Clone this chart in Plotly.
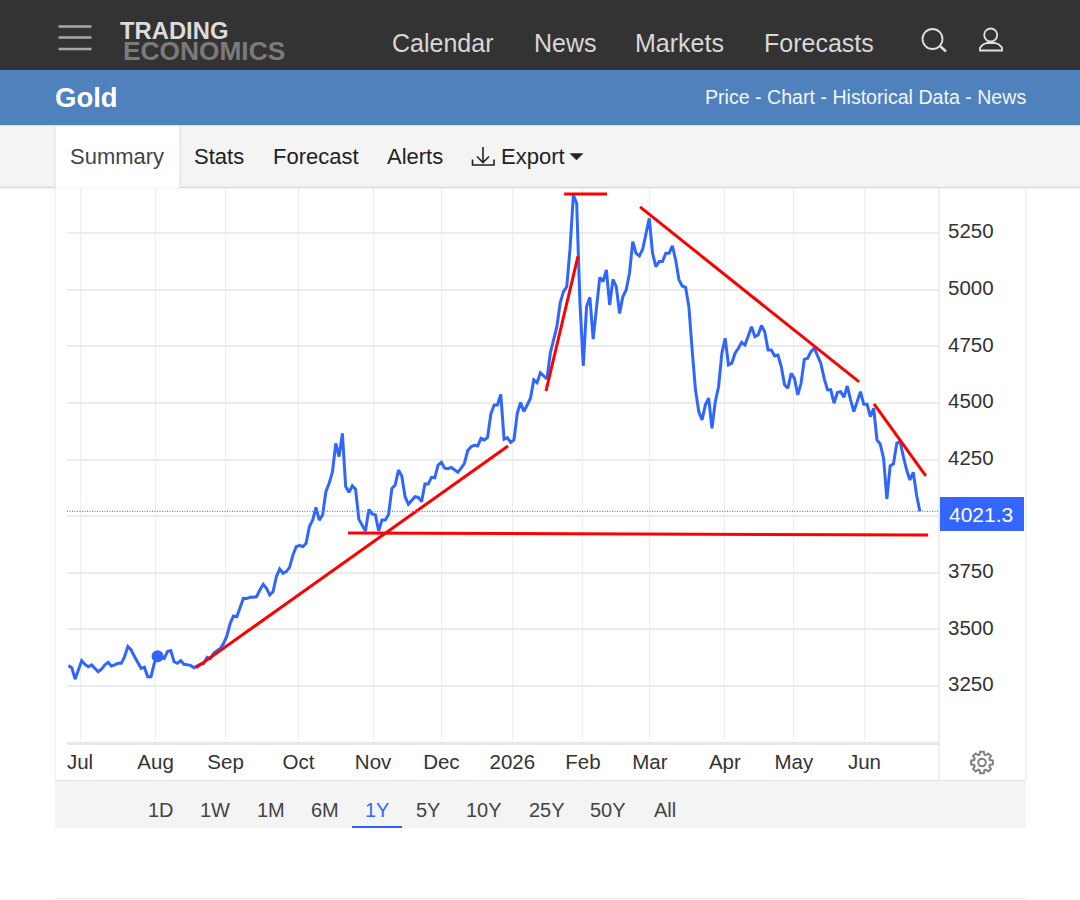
import math
import plotly.graph_objects as go

# ---------- data ----------
price = [3340,3331,3280,3324,3362,3345,3335,3343,3328,3313,3324,3343,3355,3338,3343,3350,3350,3380,3424,3409,
3380,3357,3328,3333,3291,3291,3350,3381,3380,3372,3402,3406,3357,3350,3362,3346,3343,3341,3331,3340,3346,
3350,3377,3372,3394,3406,3416,3438,3471,3527,3559,3556,3593,3637,3636,3642,3642,3645,3674,3699,3681,
3652,3667,3733,3767,3748,3755,3774,3828,3865,3871,3865,3880,3954,3983,4039,3983,4005,4108,4145,4197,
4322,4263,4366,4131,4106,4134,4119,3986,3961,3935,4030,4010,4006,3935,3983,3983,4008,4123,4138,4204,
4178,4086,4053,4072,4086,4083,4064,4142,4142,4172,4170,4226,4238,4212,4210,4215,4204,4194,4212,4234,
4290,4307,4313,4310,4344,4337,4348,4452,4491,4491,4538,4340,4347,4326,4337,4454,4502,4462,4491,4521,
4602,4590,4634,4621,4606,4720,4779,4837,4941,4992,5014,5183,5419,5382,4940,4664,4926,4967,4782,
4911,5055,5036,5088,4933,5046,5014,4896,4970,4999,5073,5213,5161,5150,5179,5250,5316,5161,5102,5125,
5125,5161,5161,5194,5132,5044,5017,5011,4926,4734,4558,4462,4425,4492,4521,4388,4506,4572,4720,4786,
4668,4676,4720,4742,4768,4756,4793,4837,4793,4801,4842,4815,4734,4734,4708,4712,4661,4580,4565,4631,
4609,4536,4587,4693,4698,4727,4742,4712,4675,4609,4558,4558,4499,4546,4550,4525,4575,4514,4462,4506,
4550,4494,4494,4440,4477,4337,4318,4256,4076,4222,4231,4322,4330,4263,4204,4160,4194,4094,4021.3]
sessions = list(range(len(price)))

last_price = 4021.3
marker_session = [27]
marker_price = [3381]

month_labels = ["Jul","Aug","Sep","Oct","Nov","Dec","2026","Feb","Mar","Apr","May","Jun"]
month_sessions = [3.5,26.4,47.6,69.7,92.3,113,134.5,155.9,176.2,198.9,219.8,241.2]
price_ticks = [3250,3500,3750,4000,4250,4500,4750,5000,5250]
price_labels = ["3250","3500","3750","","4250","4500","4750","5000","5250"]

trend_a = ([38.6,133.2],[3330,4310])
trend_b = ([84.7,260.5],[3926,3917])
trend_c = ([144.7,154.4],[4553,5149])
trend_d = ([150.2,163.2],[5423,5423])
trend_e = ([173.2,239.6],[5366,4593])
trend_f = ([244.1,259.8],[4496,4178])

nav_items = [("Calendar",392),("News",534),("Markets",635),("Forecasts",764)]
tab_items = [("Summary",70,"#444444"),("Stats",194,"#222222"),("Forecast",273,"#222222"),("Alerts",387,"#222222"),("Export",501,"#222222")]
range_items = [("1D",161),("1W",215),("1M",271),("6M",325),("1Y",377),("5Y",428),("10Y",484),("25Y",547),("50Y",608),("All",665)]

# ---------- page geometry ----------
W, H = 1080, 900
FONT = "Liberation Sans"
BLUE = "#2f66ff"
def X(p): return p / W
def Y(p): return 1 - p / H

shapes, annos = [], []
def rect(x0, y0, x1, y1, fill, line=None, lw=0, layer="below"):
    shapes.append(dict(type="rect", xref="paper", yref="paper", x0=X(x0), x1=X(x1), y0=Y(y0), y1=Y(y1),
                       fillcolor=fill, line=dict(color=line or fill, width=lw), layer=layer))
def seg(x0, y0, x1, y1, color, lw=1, layer="above", dash=None):
    shapes.append(dict(type="line", xref="paper", yref="paper", x0=X(x0), x1=X(x1), y0=Y(y0), y1=Y(y1),
                       line=dict(color=color, width=lw, dash=dash or "solid"), layer=layer))
def circ(cx, cy, r, color, lw=1.8):
    shapes.append(dict(type="circle", xref="paper", yref="paper", x0=X(cx-r), x1=X(cx+r), y0=Y(cy+r), y1=Y(cy-r),
                       line=dict(color=color, width=lw), layer="above"))
def path(points, color, lw=1.8, close=False, fill=None):
    d = "M" + " L".join(f"{X(a):.5f},{Y(b):.5f}" for a, b in points) + (" Z" if close else "")
    s = dict(type="path", xref="paper", yref="paper", path=d, line=dict(color=color, width=lw), layer="above")
    if fill: s["fillcolor"] = fill
    shapes.append(s)
def text(t, x, y, size, color, anchor="left", bold=False):
    annos.append(dict(text=f"<b>{t}</b>" if bold else t, xref="paper", yref="paper", x=X(x), y=Y(y), xanchor=anchor,
                      yanchor="middle", showarrow=False, borderpad=0, borderwidth=0,
                      font=dict(family=FONT, size=size, color=color)))

# header bands
rect(0, 0, W, 70, "#333333")
rect(0, 70, W, 125, "#4f81bd")
rect(0, 126, W, 187, "#f4f4f4")
seg(0, 125.5, W, 125.5, "#dddddd", 1, "below")
seg(0, 187.5, W, 187.5, "#d8d8d8", 1.5, "below")
rect(55, 126, 180, 188, "#ffffff")
seg(55, 126, 55, 188, "#dcdcdc", 1, "below")
seg(180, 126, 180, 188, "#dcdcdc", 1, "below")

# hamburger
for yy in (26.5, 37.5, 49):
    seg(58.5, yy, 91.5, yy, "#a8a8a8", 2.6)
text("TRADING", 119.5, 30.5, 23.8, "#dcdcdc", bold=True)
text("ECONOMICS", 122.5, 51.5, 26.3, "#7b7b7b", bold=True)
for t, x in nav_items:
    text(t, x, 42.5, 25, "#d8d8d8")
# search + user icons
circ(932.5, 39, 10, "#e0e0e0")
seg(940, 46, 946, 51.5, "#e0e0e0", 2.4)
circ(990.7, 35, 6.5, "#e0e0e0")
path([(980,50.5),(980,47.5),(983,44.5),(987,43),(995,43),(999,44.5),(1002,47.5),(1002,50.5)], "#e0e0e0", close=True)

text("Gold", 55, 97.5, 27.5, "#ffffff", bold=True)
text("Price - Chart - Historical Data - News", 1026, 97, 19.6, "#f4f6fb", anchor="right")

for t, x, c in tab_items:
    text(t, x, 157, 22, c)
# export icon and caret
seg(483, 147, 483, 162, "#222222", 1.6)
path([(477,156.5),(483,162.5),(489,156.5)], "#222222", 1.6)
path([(472.5,159.5),(472.5,165),(494,165),(494,159.5)], "#222222", 1.6)
path([(570,153.5),(583,153.5),(576.5,160)], "#222222", 0.5, close=True, fill="#222222")

# panel frame
seg(55, 188, 55, 780, "#e8e8e8", 1, "below")
seg(1026, 188, 1026, 780, "#e8e8e8", 1, "below")
seg(939, 188, 939, 780, "#dfe3e6", 1.2, "below")

# last price marker line + box
shapes.append(dict(type="line", xref="x", yref="y", x0=-0.45, x1=263.8, y0=last_price, y1=last_price,
                   line=dict(color="#4f86ff", width=1.4, dash="1px,1.5px"), layer="above"))
rect(940, 497, 1024, 531, "#3366ff", layer="above")
text("4021.3", 981, 514.5, 21, "#ffffff", anchor="center")

# gear
gear = []
cx, cy = 982, 762.5
for k in range(8):
    a = k * math.pi / 4
    for da, r in ((-0.30, 8.2), (-0.17, 11), (0.17, 11), (0.30, 8.2)):
        gear.append((cx + r * math.cos(a + da), cy + r * math.sin(a + da)))
path(gear, "#808080", 2, close=True)
circ(cx, cy, 3.8, "#808080", 2)

# range selector
rect(55, 781, 1026, 828, "#f4f4f4")
seg(55, 780.5, 1026, 780.5, "#e4e4e4", 1, "below")
for t, x in range_items:
    text(t, x, 810, 20, "#2f6bff" if t == "1Y" else "#444444", anchor="center")
rect(352, 826, 402, 828, "#2f5fff", layer="above")
seg(55, 898.5, 1026, 898.5, "#eeeeee", 1.5, "below")

# ---------- figure ----------
fig = go.Figure()
fig.add_trace(go.Scatter(x=sessions, y=price, mode="lines", line=dict(color=BLUE, width=3), hoverinfo="skip"))
fig.add_trace(go.Scatter(x=marker_session, y=marker_price, mode="markers",
                         marker=dict(color=BLUE, size=12), hoverinfo="skip"))
for tx, ty in (trend_a, trend_b, trend_c, trend_d, trend_e, trend_f):
    fig.add_trace(go.Scatter(x=tx, y=ty, mode="lines", line=dict(color="#ff0000", width=3), hoverinfo="skip"))

fig.update_layout(
    width=W, height=H, margin=dict(l=0, r=0, t=0, b=0), showlegend=False,
    paper_bgcolor="#ffffff", plot_bgcolor="rgba(0,0,0,0)", font=dict(family=FONT),
    shapes=shapes, annotations=annos, hovermode=False,
    xaxis=dict(domain=[X(67), X(939)], range=[-0.45, 263.8], tickmode="array", tickvals=month_sessions,
               ticktext=month_labels, showgrid=True, gridcolor="#e9eff5", gridwidth=1, zeroline=False,
               showline=True, linecolor="#e6e8ea", linewidth=2.5, ticks="", ticklabelstandoff=0,
               tickfont=dict(family=FONT, size=20.5, color="#333333"), fixedrange=True),
    yaxis=dict(domain=[Y(742), Y(188)], range=[3002.6, 5449.7], side="right", tickmode="array", tickvals=price_ticks,
               ticktext=price_labels, showgrid=True, gridcolor="#ececec", gridwidth=2,
               zeroline=False, showline=False, ticks="", ticklabelstandoff=8, ticklabelshift=-2,
               tickfont=dict(family=FONT, size=20.5, color="#333333"), fixedrange=True),
)
fig.write_html("out.html", config={"displayModeBar": False}, post_script="document.body.style.margin='0';")
